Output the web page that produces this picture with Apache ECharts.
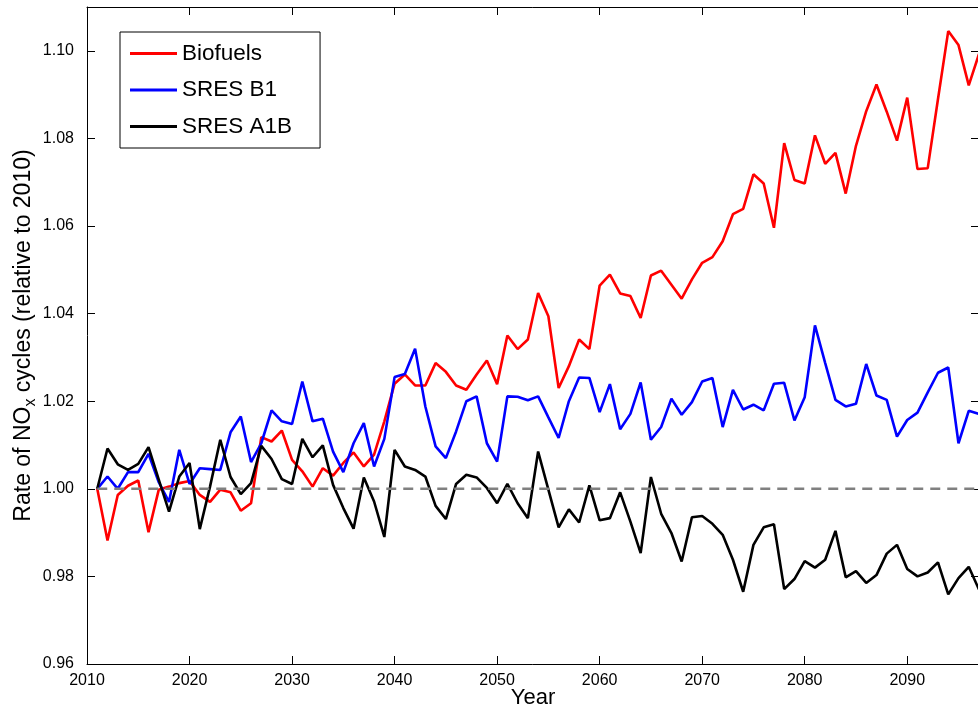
<!DOCTYPE html>
<html>
<head>
<meta charset="utf-8">
<script src="https://cdn.jsdelivr.net/npm/echarts@6/dist/echarts.min.js"></script>
<style>
  html, body { margin: 0; padding: 0; background: #fff; }
  #chart { width: 978px; height: 713px; }
</style>
</head>
<body>
<div id="chart"></div>
<script>
// Model years, 2011 to 2097
const years = [];
for (let y = 2011; y <= 2097; y++) years.push(y);

// Rate of NOx cycles relative to 2010, one value per year
const biofuels = [
  1.0000, 0.9882, 0.9986, 1.0007, 1.0019, 0.9901, 0.9998, 1.0005, 1.0013, 1.0018,
  0.9986, 0.9970, 0.9998, 0.9992, 0.9950, 0.9967, 1.0118, 1.0108, 1.0133, 1.0066,
  1.0040, 1.0005, 1.0047, 1.0030, 1.0059, 1.0083, 1.0051, 1.0078, 1.0154, 1.0240,
  1.0261, 1.0236, 1.0236, 1.0287, 1.0267, 1.0236, 1.0226, 1.0261, 1.0293, 1.0239,
  1.0350, 1.0319, 1.0341, 1.0447, 1.0394, 1.0230, 1.0280, 1.0341, 1.0319, 1.0464,
  1.0489, 1.0446, 1.0440, 1.0390, 1.0487, 1.0498, 1.0466, 1.0434, 1.0478, 1.0516,
  1.0529, 1.0565, 1.0627, 1.0639, 1.0718, 1.0697, 1.0596, 1.0789, 1.0705, 1.0697,
  1.0807, 1.0742, 1.0767, 1.0674, 1.0783, 1.0862, 1.0923, 1.0861, 1.0795, 1.0893,
  1.0730, 1.0732, 1.0890, 1.1045, 1.1013, 1.0921, 1.0993
];

const sresB1 = [
  1.0000, 1.0028, 1.0000, 1.0038, 1.0038, 1.0080, 1.0015, 0.9970, 1.0089, 1.0011,
  1.0047, 1.0045, 1.0043, 1.0129, 1.0165, 1.0061, 1.0104, 1.0179, 1.0154, 1.0148,
  1.0245, 1.0154, 1.0160, 1.0085, 1.0038, 1.0104, 1.0150, 1.0051, 1.0114, 1.0255,
  1.0262, 1.0320, 1.0188, 1.0097, 1.0070, 1.0131, 1.0200, 1.0211, 1.0104, 1.0062,
  1.0211, 1.0210, 1.0202, 1.0211, 1.0163, 1.0116, 1.0200, 1.0254, 1.0253, 1.0175,
  1.0239, 1.0136, 1.0171, 1.0243, 1.0112, 1.0141, 1.0206, 1.0169, 1.0198, 1.0245,
  1.0253, 1.0141, 1.0226, 1.0181, 1.0192, 1.0179, 1.0240, 1.0242, 1.0156, 1.0209,
  1.0373, 1.0287, 1.0203, 1.0188, 1.0194, 1.0285, 1.0213, 1.0203, 1.0119, 1.0157,
  1.0174, 1.0220, 1.0265, 1.0277, 1.0104, 1.0178, 1.0171
];

const sresA1B = [
  1.0000, 1.0092, 1.0056, 1.0043, 1.0057, 1.0095, 1.0021, 0.9948, 1.0028, 1.0059,
  0.9908, 1.0005, 1.0112, 1.0027, 0.9988, 1.0013, 1.0098, 1.0068, 1.0022, 1.0011,
  1.0114, 1.0072, 1.0099, 1.0009, 0.9956, 0.9909, 1.0026, 0.9971, 0.9890, 1.0089,
  1.0051, 1.0043, 1.0028, 0.9961, 0.9931, 1.0011, 1.0032, 1.0026, 1.0002, 0.9967,
  1.0011, 0.9967, 0.9933, 1.0085, 0.9998, 0.9912, 0.9953, 0.9923, 1.0008, 0.9928,
  0.9933, 0.9992, 0.9925, 0.9853, 1.0027, 0.9943, 0.9899, 0.9834, 0.9935, 0.9938,
  0.9920, 0.9895, 0.9838, 0.9765, 0.9872, 0.9912, 0.9919, 0.9771, 0.9794, 0.9835,
  0.9820, 0.9838, 0.9904, 0.9798, 0.9812, 0.9785, 0.9803, 0.9852, 0.9872, 0.9817,
  0.9800, 0.9809, 0.9832, 0.9759, 0.9796, 0.9822, 0.9770
];

// Baseline (2010 level) drawn as a dashed reference line
const refYears = [2011, 2097];
const refLevel = 1.0;

// Axis ranges and tick spacing
const xMin = 2010, xMax = 2097, xStep = 10;
const yMin = 0.96, yMax = 1.11, yStep = 0.02;

const seriesNames = ['Biofuels', 'SRES B1', 'SRES A1B'];
const seriesColors = ['#ff0000', '#0000ff', '#000000'];
const seriesValues = [biofuels, sresB1, sresA1B];

const FONT = '"Liberation Sans", Arial, Helvetica, sans-serif';

const pairs = vals => years.map((y, i) => [y, vals[i]]);

const frameLine = { show: true, onZero: false, lineStyle: { color: '#000', width: 1 } };
const innerTick = { show: true, inside: true, length: 8, lineStyle: { color: '#000', width: 1 } };

const xLabelFmt = v => (Math.abs(v % xStep) < 1e-6 ? String(v) : '');
const yLabelFmt = v => {
  const k = (v - yMin) / yStep;
  return Math.abs(k - Math.round(k)) < 1e-6 && v <= 1.1 + 1e-9 ? v.toFixed(2) : '';
};

const series = seriesNames.map((name, i) => ({
  name: name,
  type: 'line',
  data: pairs(seriesValues[i]),
  symbol: 'none',
  showSymbol: false,
  lineStyle: { color: seriesColors[i], width: 2.6 },
  itemStyle: { color: seriesColors[i] },
  z: 2 + i,
  animation: false
}));

series.push({
  name: 'baseline',
  type: 'line',
  data: refYears.map(y => [y, refLevel]),
  symbol: 'none',
  showSymbol: false,
  lineStyle: { color: '#808080', width: 2.5, type: [10, 7] },
  z: 6,
  silent: true,
  animation: false
});

const chart = echarts.init(document.getElementById('chart'), null, { renderer: 'canvas' });

chart.setOption({
  backgroundColor: '#ffffff',
  animation: false,
  grid: {
    left: 87, right: -1, top: 7, bottom: 49,
    containLabel: false,
    outerBoundsMode: 'none'
  },
  legend: {
    data: seriesNames,
    orient: 'vertical',
    left: 120,
    top: 32,
    padding: [10, 28, 10, 10],
    itemGap: 13.5,
    itemWidth: 47,
    itemHeight: 3,
    icon: 'rect',
    backgroundColor: '#ffffff',
    borderColor: '#000000',
    borderWidth: 1,
    borderRadius: 0,
    textStyle: { fontFamily: FONT, fontSize: 22.5, color: '#000', lineHeight: 22 }
  },
  xAxis: [
    {
      type: 'value',
      min: xMin, max: xMax, interval: xStep,
      position: 'bottom',
      axisLine: frameLine,
      axisTick: innerTick,
      splitLine: { show: false },
      axisLabel: { formatter: xLabelFmt, fontFamily: FONT, fontSize: 16, color: '#000', margin: 9, showMaxLabel: false },
      name: 'Year',
      nameLocation: 'middle',
      nameGap: 23,
      nameMoveOverlap: false,
      nameTextStyle: { fontFamily: FONT, fontSize: 22, color: '#000' }
    },
    {
      type: 'value',
      min: xMin, max: xMax, interval: xStep,
      position: 'top',
      axisLine: frameLine,
      axisTick: innerTick,
      splitLine: { show: false },
      axisLabel: { show: false }
    }
  ],
  yAxis: [
    {
      type: 'value',
      min: yMin, max: yMax, interval: yStep,
      position: 'left',
      axisLine: frameLine,
      axisTick: innerTick,
      splitLine: { show: false },
      axisLabel: { formatter: yLabelFmt, fontFamily: FONT, fontSize: 16, color: '#000', margin: 13, showMaxLabel: false },
      name: '{a|Rate of NO}{sub|x}{a| cycles (relative to 2010)}',
      nameLocation: 'middle',
      nameGap: 48,
      nameMoveOverlap: false,
      nameTextStyle: {
        fontFamily: FONT,
        color: '#000',
        rich: {
          a: { fontFamily: FONT, fontSize: 23, color: '#000', lineHeight: 30 },
          sub: { fontFamily: FONT, fontSize: 16, color: '#000', lineHeight: 30, padding: [14, 0, 0, 0] }
        }
      }
    },
    {
      type: 'value',
      min: yMin, max: yMax, interval: yStep,
      position: 'right',
      axisLine: frameLine,
      axisTick: innerTick,
      splitLine: { show: false },
      axisLabel: { show: false }
    }
  ],
  series: series
});
</script>
</body>
</html>
